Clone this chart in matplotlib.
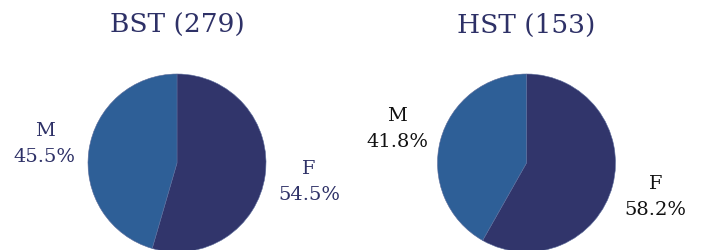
import matplotlib.pyplot as plt

plt.rcParams['font.family'] = ['DejaVu Serif']

groups = ['BST', 'HST']
totals = [279, 153]
sexes = ['F', 'M']
shares = [[54.5, 45.5], [58.2, 41.8]]
label_colors = ['#2e3167', '#111111']

pie_colors = ['#31356b', '#2e5f97']
title_color = '#2e3167'

W, H = 702, 250
R = 89.0          # pie radius in px
cy = 87.0         # pie centre height from bottom, px
centres_x = [177.0, 526.5]
half_w = 170.0

fig = plt.figure(figsize=(W / 100, H / 100), dpi=100)

for i, g in enumerate(groups):
    cx = centres_x[i]
    ax = fig.add_axes([(cx - half_w) / W, 0, 2 * half_w / W, 1])
    labels = [f'{s}\n{v}%' for s, v in zip(sexes, shares[i])]
    wedges, texts = ax.pie(shares[i], labels=labels, colors=pie_colors,
                           startangle=90, counterclock=False,
                           labeldistance=1.5, radius=1,
                           wedgeprops=dict(edgecolor='#5a6a9a', linewidth=0.4),
                           textprops=dict(fontsize=14, color=label_colors[i],
                                          ha='center', va='center',
                                          linespacing=1.55))
    ax.set_aspect('auto')
    ax.set_xlim(-half_w / R, half_w / R)
    ax.set_ylim(-cy / R, (H - cy) / R)
    ax.axis('off')
    fig.text(cx / W, 1 - 25 / H, f'{g} ({totals[i]})', ha='center', va='center',
             fontsize=19, color=title_color)

plt.savefig('out.png', dpi=100)
